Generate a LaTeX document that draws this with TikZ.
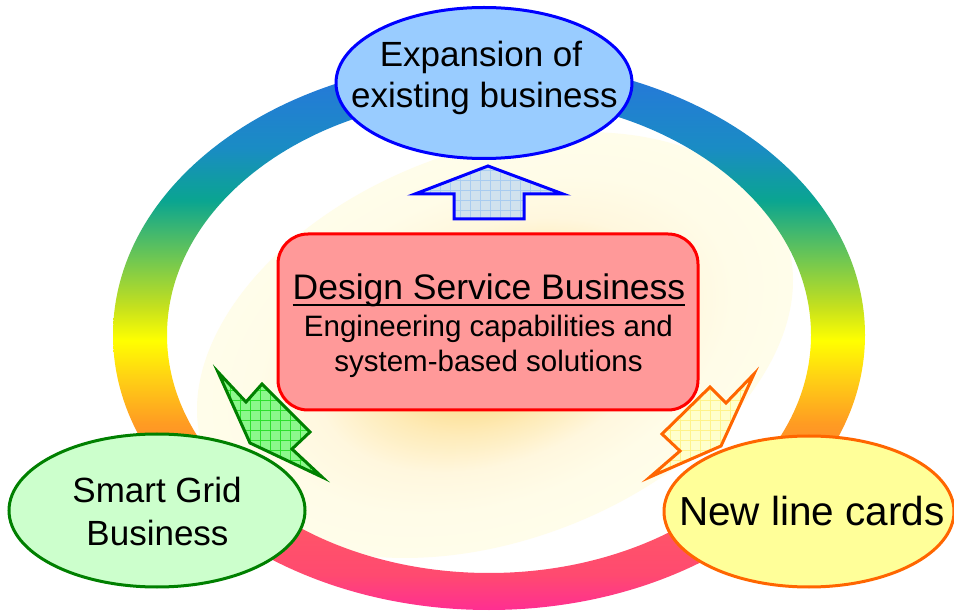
\documentclass[tikz,border=0pt]{standalone}
\usepackage{fontspec}
\setmainfont{Liberation Sans}
\usetikzlibrary{shapes.geometric}
% ring colours
\definecolor{rB0}{HTML}{FF2E92}
\definecolor{rB1}{HTML}{FF4A70}
\definecolor{rB2}{HTML}{FF5468}
\definecolor{rO1}{HTML}{FF8A2C}
\definecolor{rO2}{HTML}{FF9C22}
\definecolor{rY1}{HTML}{FFD214}
\definecolor{rY}{HTML}{FFFF00}
\definecolor{rYG}{HTML}{C4E01E}
\definecolor{rG}{HTML}{6CC654}
\definecolor{rT}{HTML}{0AA590}
\definecolor{rBT}{HTML}{1A8CC4}
\definecolor{rBl}{HTML}{2874DE}
% glow colours
\definecolor{gC}{HTML}{FBD060}
\definecolor{gM}{HTML}{FCDC8A}
\definecolor{gO}{HTML}{FEEBB8}
\definecolor{gP}{HTML}{FFF7DE}
\definecolor{gQ}{HTML}{FFFCE8}
\definecolor{gE}{HTML}{FFFDEA}
% shapes
\definecolor{topFill}{HTML}{99CCFF}
\definecolor{topStroke}{HTML}{0000FF}
\definecolor{leftFill}{HTML}{CCFFCC}
\definecolor{leftStroke}{HTML}{008000}
\definecolor{rightFill}{HTML}{FFFF99}
\definecolor{rightStroke}{HTML}{FF6600}
\definecolor{coreFill}{HTML}{FF9999}
\definecolor{coreStroke}{HTML}{FF0000}
\definecolor{upFill}{HTML}{D0E2EE}
\definecolor{upGrid}{HTML}{A8CCF0}
\definecolor{grFill}{HTML}{8CF88C}
\definecolor{grGrid}{HTML}{2EE02E}
\definecolor{orFill}{HTML}{FFFFCC}
\definecolor{orGrid}{HTML}{FFF38A}
\pgfdeclareverticalshading{ringshade}{100bp}{color(0bp)=(rB0); color(25bp)=(rB0); color(28.2bp)=(rB1); color(32.3bp)=(rB2); color(39.5bp)=(rO1); color(42bp)=(rO2); color(46.2bp)=(rY1); color(49.5bp)=(rY); color(52.6bp)=(rYG); color(57.1bp)=(rG); color(62.2bp)=(rT); color(67bp)=(rBT); color(75bp)=(rBl); color(100bp)=(rBl)}
\pgfdeclareradialshading{glowshade}{\pgfpoint{0bp}{0bp}}{color(0bp)=(gC); color(6bp)=(gM); color(10.5bp)=(gO); color(15bp)=(gP); color(20bp)=(gQ); color(25bp)=(gE); color(50bp)=(gE)}
\newcommand{\upArrowPath}{(488,166) -- (563,194) -- (524,194) -- (524,219) -- (454,219) -- (454,194) -- (415,194) -- cycle}
\newcommand{\greenArrowPath}{(218,372) -- (246,402) -- (262,384) -- (310,432) -- (292,449) -- (322,477) -- (250,443) -- cycle}
\newcommand{\orangeArrowPath}{(754,374) -- (726,403) -- (710,387) -- (662,434) -- (680,451) -- (650,477) -- (721,446) -- cycle}
\tikzset{
  bubble/.style={ellipse, line width=3pt, inner sep=0pt, outer sep=0pt},
  txt/.style={anchor=base, inner sep=0pt, outer sep=0pt, text=black, font=\fontsize{35}{42}\selectfont},
  subtxt/.style={txt, font=\fontsize{29.5}{35}\selectfont},
  outline/.style={line width=3pt, line join=miter},
  hatch/.style={line width=0.7pt},
}
\begin{document}
\begin{tikzpicture}[x=1pt,y=-1pt]
\useasboundingbox (0,0) rectangle (954,612);
\fill[white] (0,0) rectangle (954,612);
% glow inside the ring
\begin{scope}
  \clip (489,335) ellipse [x radius=322, y radius=238];
  \shade[shading=glowshade, transform canvas={shift={(495,345)}, rotate=20.8}] (0,0) ellipse [x radius=310, y radius=195];
\end{scope}
% rainbow ring
\shade[shading=ringshade, even odd rule] (489,335) ellipse [x radius=376, y radius=275] (489,335) ellipse [x radius=322, y radius=238];
% outer bubbles
\node[bubble, draw=topStroke, fill=topFill, minimum width=296pt, minimum height=151pt] (expand) at (484,83) {};
\node[bubble, draw=leftStroke, fill=leftFill, minimum width=296pt, minimum height=153pt] (grid) at (157,510.5) {};
\node[bubble, draw=rightStroke, fill=rightFill, minimum width=290pt, minimum height=151pt] (cards) at (809,511.5) {};
\node[txt] (expandA) at (481,67) {Expansion of};
\node[txt] (expandB) at (484.5,108) {existing business};
\node[txt] (gridA) at (157,502) {Smart Grid};
\node[txt] (gridB) at (157.5,545) {Business};
\node[txt, font=\fontsize{40.5}{48}\selectfont] (cardsA) at (812,525) {New line cards};
% arrows
\fill[upFill] \upArrowPath;
\begin{scope}
  \clip \upArrowPath;
  \draw[hatch, upGrid, step=10pt] (400,230) grid (580,160);
\end{scope}
\draw[outline, topStroke] \upArrowPath;
\fill[grFill] \greenArrowPath;
\begin{scope}
  \clip \greenArrowPath;
  \draw[hatch, grGrid, step=10pt] (210,485) grid (330,365);
\end{scope}
\draw[outline, leftStroke] \greenArrowPath;
\fill[orFill] \orangeArrowPath;
\begin{scope}
  \clip \orangeArrowPath;
  \draw[hatch, orGrid, step=10pt] (640,485) grid (760,365);
\end{scope}
\draw[outline, rightStroke] \orangeArrowPath;
% central box
\node[draw=coreStroke, fill=coreFill, line width=3pt, rounded corners=30pt, minimum width=420pt, minimum height=176pt, inner sep=0pt] (core) at (488,322) {};
\node[txt, font=\fontsize{35.5}{42}\selectfont] (title) at (489,300) {Design Service Business};
\draw[line width=1.8pt] ([yshift=-5pt]title.base west) -- ([yshift=-5pt]title.base east);
\node[subtxt] (subA) at (488.5,337) {Engineering capabilities and};
\node[subtxt] (subB) at (488.5,372) {system-based solutions};
\end{tikzpicture}
\end{document}
